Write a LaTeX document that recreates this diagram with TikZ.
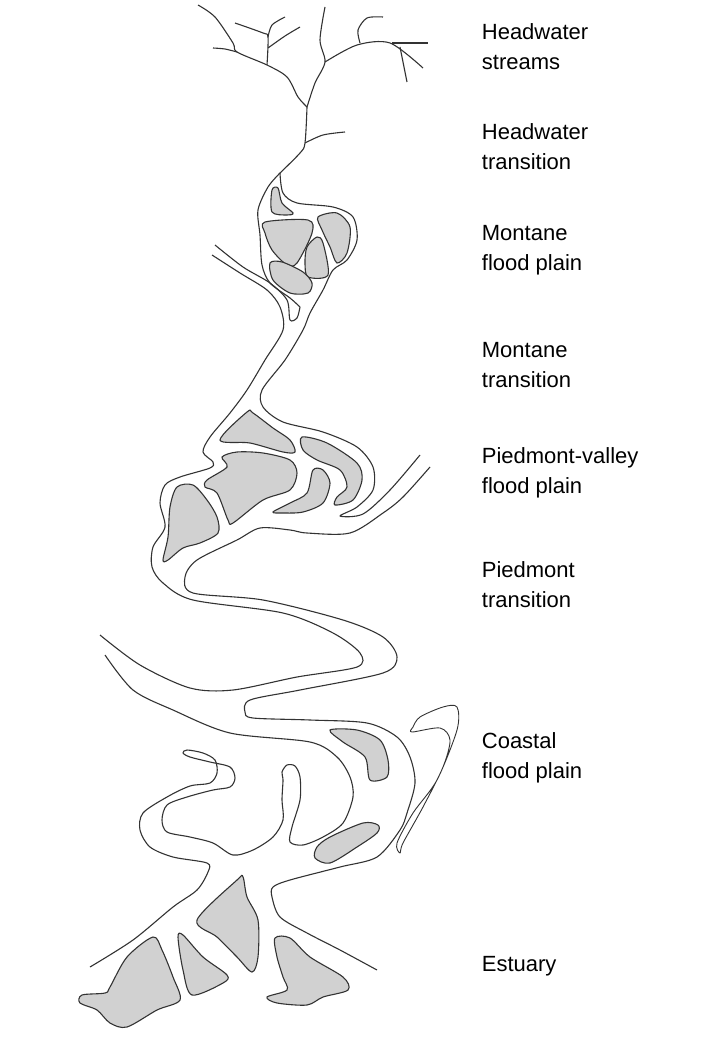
\documentclass[tikz,border=0pt]{standalone}
\usepackage{fontspec}
\setmainfont{Liberation Sans}
\begin{document}
\begin{tikzpicture}[x=1pt,y=-1pt,line width=1.1pt,
  bank/.style={draw=black!80,line join=round},
  isle/.style={draw=black!80,fill=black!18},
  lab/.style={anchor=west,align=left,font=\fontsize{22}{30}\selectfont}]
\useasboundingbox (0,0) rectangle (714,1051);
% headwater tree
\draw[bank] plot[smooth] coordinates {(198,5)(215,17)(233,43)(237,52)(267,65)(287,77)(298,97)(307,107)};
\draw[bank] plot[smooth] coordinates {(213,48)(225,49)(237,52)};
\draw[bank] plot[smooth] coordinates {(235,23)(263,33)(268,37)(267,65)};
\draw[bank] plot[smooth] coordinates {(268,37)(272,25)(285,17)};
\draw[bank] plot[smooth] coordinates {(268,48)(285,36)(300,27)};
\draw[bank] plot[smooth] coordinates {(325,7)(320,40)(325,62)(315,83)(307,107)};
\draw[bank] plot[smooth] coordinates {(325,62)(357,45)(390,43)(423,68)};
\draw[bank] plot[smooth] coordinates {(360,43)(358,30)(367,18)(383,17)};
\draw[bank] (392,43) -- (428,43);
\draw[bank] (400,47) -- (407,82);
\draw[bank] plot[smooth] coordinates {(307,107)(305,143)(300,153)(280,173)};
\draw[bank] plot[smooth] coordinates {(305,143)(323,135)(345,132)};
% montane flood plain
\draw[bank] plot[smooth] coordinates {(280,173)(268,187)(258,210)(260,235)(262,265)(270,283)(290,298)(300,307)};
\draw[bank] plot[smooth] coordinates {(280,173)(283,193)(297,203)(333,207)(353,217)(357,240)(347,260)(333,270)(323,290)(310,313)(303,330)(285,360)(262,390)(263,407)(283,422)(323,432)(357,447)(373,467)(373,490)(357,507)(340,516)(363,514)(390,490)(420,455)};
\draw[bank] plot[smooth] coordinates {(215,245)(243,267)(270,283)(287,300)(290,320)(297,318)(300,307)};
\draw[bank] plot[smooth] coordinates {(212,255)(240,273)(267,290)(280,307)(283,330)(265,360)(247,390)(230,413)(210,437)(203,452)(213,462)(210,468)(180,477)(165,485)(160,503)(165,527)(153,547)(152,567)(163,583)(193,600)(283,613)(333,633)(360,653)(357,667)(297,677)(233,690)(190,688)(140,665)(100,635)};
\draw[isle] plot[smooth cycle] coordinates {(272,190)(278,188)(282,203)(293,213)(287,215)(272,212)};
\draw[isle] plot[smooth cycle] coordinates {(265,222)(308,220)(312,233)(297,263)(287,265)(272,250)(265,233)};
\draw[isle] plot[smooth cycle] coordinates {(318,217)(337,213)(350,227)(347,253)(337,263)(330,247)(322,230)};
\draw[isle] plot[smooth cycle] coordinates {(307,247)(317,237)(323,243)(328,275)(308,277)(305,263)};
\draw[isle] plot[smooth cycle] coordinates {(270,263)(282,262)(303,272)(312,283)(308,293)(290,293)(273,280)};
% piedmont
\draw[isle] plot[smooth cycle] coordinates {(220,440)(247,412)(253,413)(273,428)(290,440)(295,452)(283,452)(250,443)};
\draw[isle] plot[smooth cycle] coordinates {(207,480)(227,467)(222,457)(237,452)(263,453)(290,460)(297,473)(290,490)(263,500)(233,523)(228,520)(217,493)(205,487)};
\draw[isle] plot[smooth cycle] coordinates {(302,437)(327,443)(357,463)(362,480)(353,500)(335,505)(337,497)(347,487)(340,470)(317,460)(303,450)};
\draw[isle] plot[smooth cycle] coordinates {(273,512)(290,503)(307,493)(313,470)(323,470)(330,483)(323,503)(303,512)(283,513)};
\draw[isle] plot[smooth cycle] coordinates {(163,560)(168,537)(170,507)(177,487)(193,485)(207,500)(217,517)(218,533)(200,543)(183,548)(168,560)};
\draw[bank] plot[smooth] coordinates {(430,467)(403,497)(383,513)(350,533)(307,533)(290,530)(260,528)(237,540)(197,560)(185,577)(193,593)(263,600)(343,620)(383,637)(397,657)(383,673)(300,690)(250,700)(245,712)(253,718)(310,720)(367,723)(397,737)(410,757)(415,783)(407,813)(400,830)(377,857)(340,867)(290,880)(273,887)(272,897)(280,917)(307,933)(340,950)(377,970)};
% coastal
\draw[bank] plot[smooth] coordinates {(105,655)(133,690)(173,710)(230,733)(310,742)(337,757)(350,777)(353,797)(343,823)(323,837)(303,845)(290,842)(292,827)(300,800)(300,777)(295,766)(287,765)(282,772)(283,780)(282,800)(283,820)(273,837)(253,850)(233,855)(213,843)(190,837)(167,832)(162,820)(167,805)(187,797)(213,790)(230,787)(235,778)(230,767)(210,762)(190,757)(183,753)(187,750)(203,753)(215,760)(217,773)(210,783)(190,786)(167,797)(143,813)(140,830)(150,847)(173,857)(207,863)(208,872)(197,890)(173,907)(133,940)(90,967)};
\draw[isle] plot[smooth cycle] coordinates {(330,730)(357,730)(380,740)(388,760)(387,777)(370,780)(365,757)(343,742)};
\draw[isle] plot[smooth cycle] coordinates {(317,847)(330,837)(363,823)(378,825)(377,833)(357,847)(330,863)(315,858)};
\draw[bank,line width=0.9pt] plot[smooth cycle] coordinates {(412,732)(440,728)(450,740)(443,767)(423,807)(403,843)(400,853)(397,843)(413,813)(437,780)(457,730)(457,707)(443,707)(420,717)(413,727)};
% estuary
\draw[isle] plot[smooth cycle] coordinates {(197,920)(237,880)(243,877)(247,897)(258,920)(258,957)(252,972)(237,957)(217,937)};
\draw[isle] plot[smooth cycle] coordinates {(178,937)(183,935)(203,957)(227,975)(223,983)(192,995)(183,970)};
\draw[isle] plot[smooth cycle] coordinates {(110,987)(127,957)(153,937)(162,950)(173,977)(180,1000)(157,1010)(127,1027)(110,1023)(97,1010)(80,1003)(82,995)(105,993)};
\draw[isle] plot[smooth cycle] coordinates {(275,938)(290,938)(310,957)(343,977)(348,990)(323,997)(307,1005)(277,1003)(267,997)(287,990)(283,977)(277,957)};
% labels
\node[lab] (l1) at (478,47) {Headwater\\streams};
\node[lab] (l2) at (478,147) {Headwater\\transition};
\node[lab] (l3) at (478,250) {Montane\\flood plain};
\node[lab] (l4) at (478,365) {Montane\\transition};
\node[lab] (l5) at (478,473) {Piedmont-valley\\flood plain};
\node[lab] (l6) at (478,585) {Piedmont\\transition};
\node[lab] (l7) at (478,758) {Coastal\\flood plain};
\node[lab] (l8) at (478,966) {Estuary};
\end{tikzpicture}
\end{document}
